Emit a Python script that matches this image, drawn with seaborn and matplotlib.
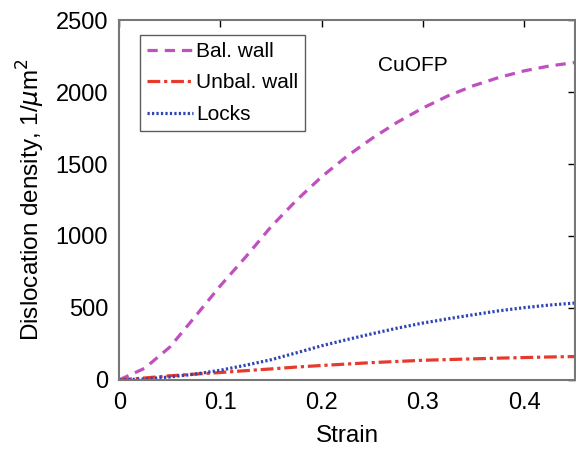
import numpy as np
import pandas as pd
import matplotlib
matplotlib.use("Agg")
import matplotlib.pyplot as plt
import seaborn as sns

# Strain values and dislocation densities (1/um^2) for CuOFP
strain = [0.0, 0.025, 0.05, 0.075, 0.1, 0.125, 0.15, 0.175, 0.2, 0.225,
          0.25, 0.275, 0.3, 0.325, 0.35, 0.375, 0.4, 0.425, 0.45]
bal_wall = [0, 80, 228, 440, 655, 855, 1065, 1248, 1412, 1555,
            1680, 1792, 1890, 1975, 2045, 2102, 2148, 2182, 2206]
unbal_wall = [0, 13, 28, 40, 51, 64, 76, 89, 100, 110,
              120, 128, 136, 141, 146, 151, 155, 159, 162]
locks = [0, 6, 20, 40, 67, 102, 140, 188, 237, 280,
         321, 360, 395, 425, 453, 480, 502, 520, 534]

series_names = ["Bal. wall", "Unbal. wall", "Locks"]
x_ticks = [0, 0.1, 0.2, 0.3, 0.4]
y_ticks = [0, 500, 1000, 1500, 2000, 2500]

df = pd.DataFrame({
    "Strain": strain * 3,
    "Density": bal_wall + unbal_wall + locks,
    "Series": np.repeat(series_names, len(strain)),
})

sns.set_theme(style="white")
plt.rcParams["font.family"] = ["Liberation Sans", "DejaVu Sans"]
plt.rcParams["mathtext.fontset"] = "dejavusans"
for key in ("text.color", "axes.labelcolor", "xtick.color", "ytick.color"):
    plt.rcParams[key] = "black"

fig = plt.figure(figsize=(5.76, 4.49), dpi=100)
ax = fig.add_axes([0.207, 0.154, 0.791, 0.801])

styles = {
    "Bal. wall": dict(color="#c04fc0", linestyle=(0, (3.2, 2.2))),
    "Unbal. wall": dict(color="#e53a2c", linestyle=(0, (4.0, 1.2, 1.0, 1.2))),
    "Locks": dict(color="#2f45b5", linestyle=(0, (0.7, 0.7))),
}
for name in series_names:
    sns.lineplot(data=df[df["Series"] == name], x="Strain", y="Density",
                 ax=ax, label=name, linewidth=2.3, **styles[name])

ax.set_xlim(0, 0.45)
ax.set_ylim(0, 2500)
ax.set_xticks(x_ticks)
ax.set_xticklabels(["0", "0.1", "0.2", "0.3", "0.4"])
ax.set_yticks(y_ticks)
ax.tick_params(axis="both", direction="in", length=5, width=1, color="black",
               labelsize=17, labelcolor="black", top=True, right=True)
ax.tick_params(axis="x", pad=9)
ax.tick_params(axis="y", pad=8)
for s in ax.spines.values():
    s.set_color("#777777")
    s.set_linewidth(1.5)

ax.set_xlabel("Strain", fontsize=17.5, labelpad=8, color="black")
ax.set_ylabel(r"Dislocation density, 1/$\mu$m$^2$", fontsize=17.5,
              labelpad=6, color="black")

ax.text(0.256, 2187, "CuOFP", fontsize=15, va="center", ha="left",
        color="black")

leg = ax.legend(loc="upper left", bbox_to_anchor=(0.045, 0.96), fontsize=15,
                frameon=True, fancybox=False, handlelength=2.2,
                handletextpad=0.15, borderpad=0.35, labelspacing=0.6,
                borderaxespad=0.0)
for t in leg.get_texts():
    t.set_color("black")
leg.get_frame().set_edgecolor("#333333")
leg.get_frame().set_linewidth(1.0)

fig.savefig("out.png", dpi=100)
